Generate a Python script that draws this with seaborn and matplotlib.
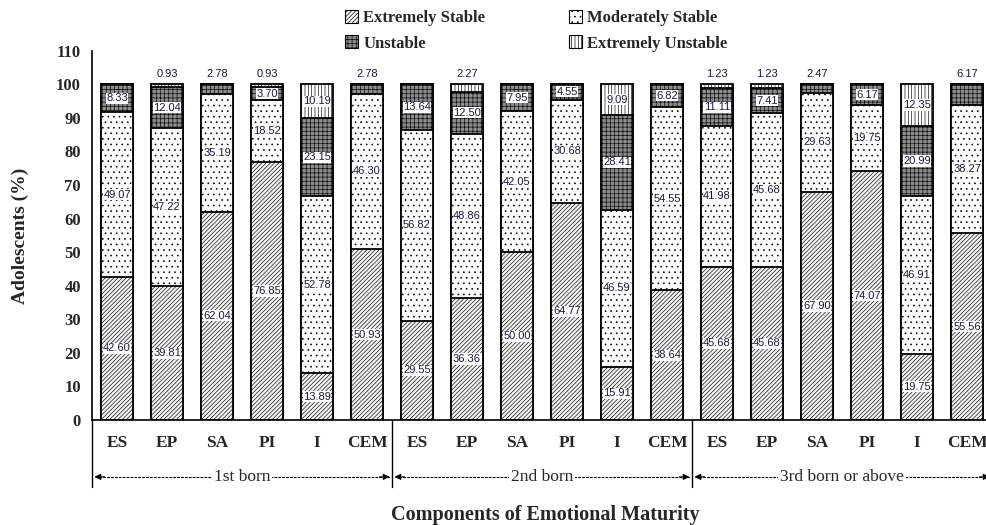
import matplotlib
matplotlib.use('Agg')
import matplotlib.pyplot as plt
from matplotlib.patches import Patch
import seaborn as sns
import pandas as pd

# data (% of adolescents)
components = ['ES', 'EP', 'SA', 'PI', 'I', 'CEM']
birth_order = ['1st born', '2nd born', '3rd born or above']
extremely_stable = [42.60, 39.81, 62.04, 76.85, 13.89, 50.93,
                    29.55, 36.36, 50.00, 64.77, 15.91, 38.64,
                    45.68, 45.68, 67.90, 74.07, 19.75, 55.56]
moderately_stable = [49.07, 47.22, 35.19, 18.52, 52.78, 46.30,
                     56.82, 48.86, 42.05, 30.68, 46.59, 54.55,
                     41.98, 45.68, 29.63, 19.75, 46.91, 38.27]
unstable = [8.33, 12.04, 2.78, 3.70, 23.15, 2.78,
            13.64, 12.50, 7.95, 4.55, 28.41, 6.82,
            11.11, 7.41, 2.47, 6.17, 20.99, 6.17]
extremely_unstable = [0, 0.93, 0, 0.93, 10.19, 0,
                      0, 2.27, 0, 0, 9.09, 0,
                      1.23, 1.23, 0, 0, 12.35, 0]
levels = ['Extremely Stable', 'Moderately Stable', 'Unstable', 'Extremely Unstable']

sns.set_style('white')
plt.rcParams['font.family'] = ['Liberation Serif', 'DejaVu Serif']
plt.rcParams['hatch.linewidth'] = 0.45

keys = [f'{g}|{c}' for g in birth_order for c in components]
df = pd.DataFrame({'key': keys,
                   'es': extremely_stable, 'ms': moderately_stable,
                   'un': unstable, 'eu': extremely_unstable})
df['c1'] = df['es']
df['c2'] = df['c1'] + df['ms']
df['c3'] = df['c2'] + df['un']
df['c4'] = df['c3'] + df['eu']

styles = {
    'Extremely Stable': dict(color='#f4f4f4', hatch='////////'),
    'Moderately Stable': dict(color='white', hatch='...'),
    'Unstable': dict(color='#8c8c8c', hatch='++++'),
    'Extremely Unstable': dict(color='white', hatch='|||||'),
}

fig = plt.figure(figsize=(9.86, 5.25), dpi=100)
ax = fig.add_axes([92 / 986, 0.2, 900 / 986, 0.7034])

# stacked bars: draw cumulative totals from the top layer down
for col, lev in zip(['c4', 'c3', 'c2', 'c1'], levels[::-1]):
    st = styles[lev]
    sns.barplot(data=df, x='key', y=col, order=keys, color=st['color'],
                saturation=1, hatch=st['hatch'], edgecolor='black',
                linewidth=1.3, width=0.64, errorbar=None, ax=ax)

# value labels
seg_cols = ['es', 'ms', 'un', 'eu']
for i, row in df.iterrows():
    bottom = 0
    top_seg = max(j for j, c in enumerate(seg_cols) if row[c] > 0)
    for j, c in enumerate(seg_cols):
        v = row[c]
        if v <= 0:
            continue
        txt = f'{v:.2f}'
        if j == top_seg and (v < 3 or i == len(df) - 1):
            ax.text(i, 103, txt, ha='center', va='center', fontsize=8,
                    family='Liberation Sans', color='#1a1a3a')
        else:
            ax.text(i, bottom + v / 2, txt, ha='center', va='center', fontsize=8,
                    family='Liberation Sans', color='#1a1a3a',
                    bbox=dict(facecolor='white', edgecolor='none', pad=0.4))
        bottom += v

ax.set_xlim(-0.5, 17.5)
ax.set_ylim(0, 110)
ax.set_yticks(range(0, 111, 10))
ax.set_xticks(range(len(keys)))
ax.set_xticklabels(components * 3, fontsize=12.5, fontweight='bold')
ax.tick_params(axis='x', length=0, pad=11)
ax.tick_params(axis='y', length=5, width=1, direction='out', pad=3, labelsize=12)
for lab in ax.get_yticklabels():
    lab.set_fontweight('bold')
ax.set_xlabel('')
ax.set_ylabel('')
sns.despine(ax=ax)
for s in ['left', 'bottom']:
    ax.spines[s].set_linewidth(1.2)
    ax.spines[s].set_color('black')

trans = ax.get_xaxis_transform()
for x in [-0.5, 5.5, 11.5]:
    ax.plot([x, x], [0, -0.181], transform=trans, clip_on=False, color='black', lw=1)

# birth order group arrows
ya = -0.154
for g, name in enumerate(birth_order):
    x0, x1 = 6 * g - 0.45, 6 * g + 5.45
    ax.plot([x0, x1], [ya, ya], transform=trans, clip_on=False, color='black',
            lw=0.8, ls=(0, (2.5, 1)))
    for xe, xs in [(x0, x0 + 0.2), (x1, x1 - 0.2)]:
        ax.annotate('', xy=(xe, ya), xytext=(xs, ya), xycoords=trans, textcoords=trans,
                    arrowprops=dict(arrowstyle='-|>', color='black', lw=0.8,
                                    mutation_scale=9, shrinkA=0, shrinkB=0),
                    annotation_clip=False)
    ax.text(6 * g + 2.5, ya, name, transform=trans, ha='center', va='center',
            fontsize=12.5, bbox=dict(facecolor='white', edgecolor='none', pad=1.5))

fig.text(545 / 986, 1 - 515 / 525, 'Components of Emotional Maturity',
         ha='center', va='center', fontsize=14.5, fontweight='bold')
fig.text(20 / 986, 1 - 236 / 525, 'Adolescents (%)', rotation=90,
         ha='center', va='center', fontsize=14, fontweight='bold')

handles = [Patch(facecolor=styles[l]['color'], hatch=styles[l]['hatch'],
                 edgecolor='black', linewidth=0.8, label=l)
           for l in ['Extremely Stable', 'Unstable', 'Moderately Stable', 'Extremely Unstable']]
fig.legend(handles=handles, ncol=2, loc='upper left', bbox_to_anchor=(345 / 986, 1 - 10 / 525),
           frameon=False, prop=dict(weight='bold', size=12), handlelength=0.8,
           handleheight=0.8, handletextpad=0.3, columnspacing=5.0, labelspacing=0.55,
           borderaxespad=0, borderpad=0)

fig.savefig('out.png', dpi=100)
